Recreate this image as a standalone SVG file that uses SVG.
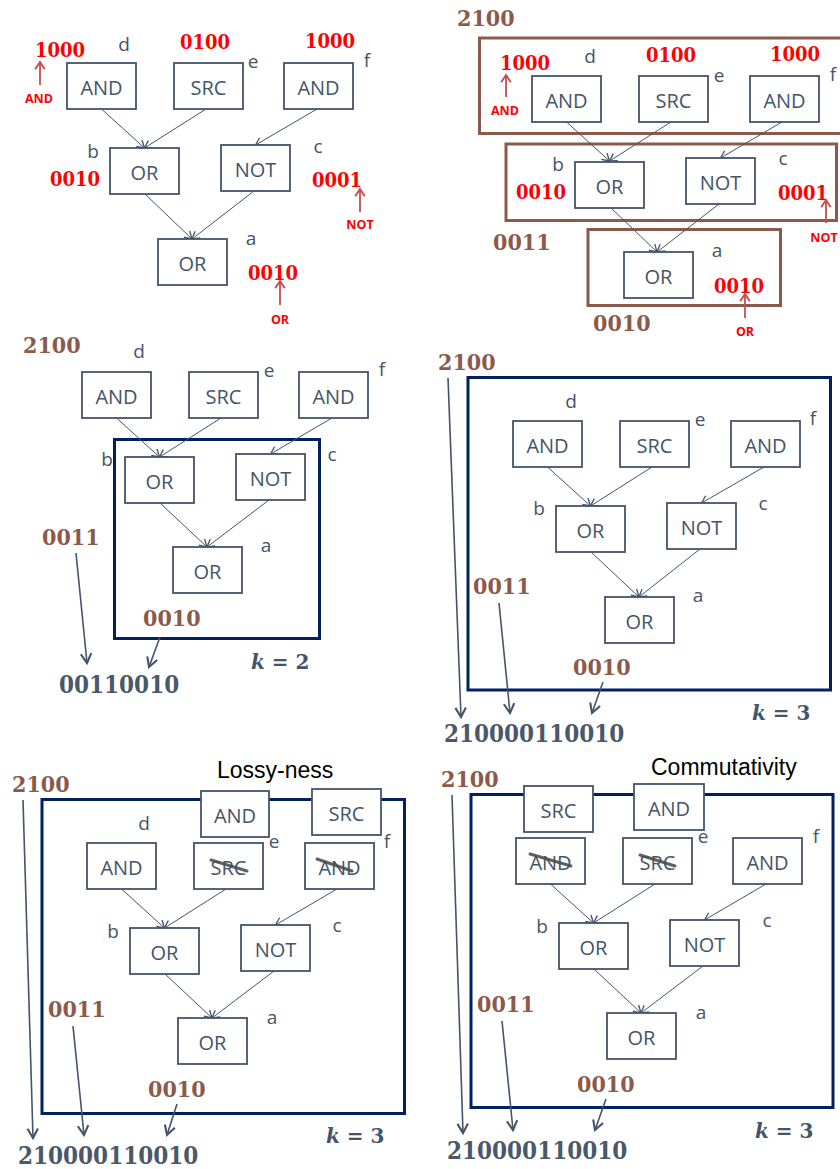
<svg xmlns="http://www.w3.org/2000/svg" width="840" height="1169" viewBox="0 0 840 1169">
<defs>
  <marker id="ah" markerUnits="userSpaceOnUse" markerWidth="12" markerHeight="12" viewBox="-8 -5 10 10" refX="0" refY="0" orient="auto">
    <path d="M-6,-3.5 L0,0 L-6,3.5" fill="none" stroke="#44546A" stroke-width="1.1"/>
  </marker>
  <marker id="ahBig" markerUnits="userSpaceOnUse" markerWidth="14" markerHeight="14" viewBox="-10 -6 12 12" refX="0" refY="0" orient="auto">
    <path d="M-8,-4.5 L0,0 L-8,4.5" fill="none" stroke="#44546A" stroke-width="1.8"/>
  </marker>
  <marker id="ahRed" markerUnits="userSpaceOnUse" markerWidth="12" markerHeight="12" viewBox="-8 -5 10 10" refX="0" refY="0" orient="auto">
    <path d="M-6,-4 L0,0 L-6,4" fill="none" stroke="#C0504D" stroke-width="1.6"/>
  </marker>
  <filter id="blur" x="-20%" y="-50%" width="140%" height="200%">
    <feGaussianBlur stdDeviation="0.7"/>
  </filter>
</defs>
<style>
  .node rect { fill: #ffffff; stroke: #44546A; stroke-width: 1.8; }
  .node text { font-family: "Open Sans", "Liberation Sans", sans-serif; font-size: 20px; fill: #44546A; text-anchor: middle; }
  .lbl { font-family: "Open Sans", "Liberation Sans", sans-serif; font-size: 19px; fill: #44546A; text-anchor: middle; }
  .edge { stroke: #44546A; stroke-width: 1; fill: none; marker-end: url(#ah); }
  .ser { stroke: #44546A; stroke-width: 1.6; fill: none; marker-end: url(#ahBig); }
  .rarr { stroke: #C0504D; stroke-width: 1.8; fill: none; marker-end: url(#ahRed); }
  .num { font-family: "DejaVu Serif Condensed", "DejaVu Serif", serif; font-stretch: condensed; font-weight: bold; }
  .red { fill: #FF0000; font-size: 20px; }
  .brown { fill: #8C5A4A; font-size: 23px; }
  .grey { fill: #4A586A; font-size: 24px; }
  .rlbl { font-family: "Open Sans", "Liberation Sans", sans-serif; font-weight: bold; font-size: 12.5px; fill: #FF0000; text-anchor: middle; }
  .kk { font-family: "DejaVu Serif", serif; font-weight: bold; font-size: 20px; fill: #44546A; }
  .brbox { fill: none; stroke: #8C5A4A; stroke-width: 3; }
  .blbox { fill: none; stroke: #002060; stroke-width: 3; }
  .title { font-family: "Liberation Sans", Arial, sans-serif; font-size: 23px; fill: #000000; }
  .strike { stroke: #4F4F4F; stroke-width: 3; stroke-linecap: round; opacity: 0.9; filter: url(#blur); }
</style>

<!-- ============ Panel 1 ============ -->
<g id="panel1">
  <g id="p1-connectors" transform="translate(67,63)">
    <line class="edge" x1="34.5" y1="46" x2="77.5" y2="85"/>
    <line class="edge" x1="139" y1="46" x2="77.5" y2="85"/>
    <line class="edge" x1="250" y1="46" x2="188.5" y2="82"/>
    <line class="edge" x1="78" y1="131" x2="125" y2="176"/>
    <line class="edge" x1="187" y1="128" x2="125" y2="176"/>
  </g>
  <g transform="translate(67,63)">
    <g id="p1-d" class="node"><rect x="0" y="0" width="69" height="46"/><text x="34.5" y="31.5">AND</text></g>
    <g id="p1-e" class="node"><rect x="107" y="0" width="69" height="46"/><text x="141.5" y="31.5">SRC</text></g>
    <g id="p1-f" class="node"><rect x="217" y="0" width="69" height="46"/><text x="251.5" y="31.5">AND</text></g>
    <g id="p1-b" class="node"><rect x="43" y="85" width="69" height="46"/><text x="77.5" y="116.5">OR</text></g>
    <g id="p1-c" class="node"><rect x="154" y="82" width="69" height="46"/><text x="188.5" y="113.5">NOT</text></g>
    <g id="p1-a" class="node"><rect x="91" y="176" width="69" height="46"/><text x="125.5" y="207.5">OR</text></g>
    <text class="lbl" x="57" y="-12">d</text>
    <text class="lbl" x="186" y="5">e</text>
    <text class="lbl" x="300" y="4">f</text>
    <text class="lbl" x="26" y="95">b</text>
    <text class="lbl" x="251" y="90">c</text>
    <text class="lbl" x="184" y="182">a</text>
  </g>
  <text class="num red" x="35" y="57">1000</text>
  <text class="num red" x="180" y="49">0100</text>
  <text class="num red" x="305" y="48">1000</text>
  <text class="num red" x="50" y="186">0010</text>
  <text class="num red" x="312" y="187">0001</text>
  <text class="num red" x="248" y="280">0010</text>
  <line class="rarr" x1="40" y1="85" x2="40" y2="62"/>
  <line class="rarr" x1="360" y1="212" x2="360" y2="189"/>
  <line class="rarr" x1="280" y1="305" x2="280" y2="281"/>
  <text class="rlbl" x="39" y="103">AND</text>
  <text class="rlbl" x="360" y="229">NOT</text>
  <text class="rlbl" x="280" y="324">OR</text>
</g>

<!-- ============ Panel 2 ============ -->
<g id="panel2">
  <rect class="brbox" x="479.5" y="38" width="362" height="95.5"/>
  <rect class="brbox" x="506" y="144" width="330.5" height="76.5"/>
  <rect class="brbox" x="588" y="229.5" width="192.5" height="76"/>
  <g id="p2-connectors" transform="translate(532,76)">
    <line class="edge" x1="34.5" y1="46" x2="77.5" y2="85"/>
    <line class="edge" x1="139" y1="46" x2="77.5" y2="85"/>
    <line class="edge" x1="250" y1="46" x2="188.5" y2="82"/>
    <line class="edge" x1="78" y1="131" x2="125" y2="176"/>
    <line class="edge" x1="187" y1="128" x2="125" y2="176"/>
  </g>
  <g transform="translate(532,76)">
    <g id="p2-d" class="node"><rect x="0" y="0" width="69" height="46"/><text x="34.5" y="31.5">AND</text></g>
    <g id="p2-e" class="node"><rect x="107" y="0" width="69" height="46"/><text x="141.5" y="31.5">SRC</text></g>
    <g id="p2-f" class="node"><rect x="218" y="0" width="69" height="46"/><text x="252.5" y="31.5">AND</text></g>
    <g id="p2-b" class="node"><rect x="43" y="86" width="69" height="46"/><text x="77.5" y="117.5">OR</text></g>
    <g id="p2-c" class="node"><rect x="154" y="82" width="69" height="46"/><text x="188.5" y="113.5">NOT</text></g>
    <g id="p2-a" class="node"><rect x="92" y="176" width="69" height="46"/><text x="126.5" y="207.5">OR</text></g>
    <text class="lbl" x="58" y="-13">d</text>
    <text class="lbl" x="187" y="6">e</text>
    <text class="lbl" x="301" y="5">f</text>
    <text class="lbl" x="26" y="95">b</text>
    <text class="lbl" x="251" y="89">c</text>
    <text class="lbl" x="185" y="181">a</text>
  </g>
  <text class="num brown" x="457" y="26">2100</text>
  <text class="num red" x="500" y="70">1000</text>
  <text class="num red" x="646" y="62">0100</text>
  <text class="num red" x="770" y="61">1000</text>
  <text class="num red" x="516" y="199">0010</text>
  <text class="num red" x="778" y="200">0001</text>
  <text class="num red" x="714" y="293">0010</text>
  <line class="rarr" x1="506" y1="97" x2="506" y2="75"/>
  <line class="rarr" x1="826" y1="223" x2="826" y2="200"/>
  <line class="rarr" x1="745" y1="318" x2="745" y2="294"/>
  <text class="rlbl" x="505" y="115">AND</text>
  <text class="rlbl" x="824" y="242">NOT</text>
  <text class="rlbl" x="745" y="336">OR</text>
  <text class="num brown" x="493" y="250">0011</text>
  <text class="num brown" x="593" y="331">0010</text>
</g>

<!-- ============ Panel 3 ============ -->
<g id="panel3">
  <rect class="blbox" x="114.5" y="439.5" width="205" height="199"/>
  <g id="p3-connectors" transform="translate(82,372)">
    <line class="edge" x1="34.5" y1="46" x2="77.5" y2="85"/>
    <line class="edge" x1="139" y1="46" x2="77.5" y2="85"/>
    <line class="edge" x1="250" y1="46" x2="188.5" y2="82"/>
    <line class="edge" x1="78" y1="131" x2="125" y2="175"/>
    <line class="edge" x1="187" y1="128" x2="125" y2="175"/>
  </g>
  <g transform="translate(82,372)">
    <g id="p3-d" class="node"><rect x="0" y="0" width="69" height="46"/><text x="34.5" y="31.5">AND</text></g>
    <g id="p3-e" class="node"><rect x="107" y="0" width="69" height="46"/><text x="141.5" y="31.5">SRC</text></g>
    <g id="p3-f" class="node"><rect x="217" y="0" width="69" height="46"/><text x="251.5" y="31.5">AND</text></g>
    <g id="p3-b" class="node"><rect x="43" y="85" width="69" height="46"/><text x="77.5" y="116.5">OR</text></g>
    <g id="p3-c" class="node"><rect x="154" y="82" width="69" height="46"/><text x="188.5" y="113.5">NOT</text></g>
    <g id="p3-a" class="node"><rect x="91" y="175" width="69" height="46"/><text x="125.5" y="206.5">OR</text></g>
    <text class="lbl" x="57" y="-14">d</text>
    <text class="lbl" x="187" y="5">e</text>
    <text class="lbl" x="300" y="4">f</text>
    <text class="lbl" x="25" y="94">b</text>
    <text class="lbl" x="250" y="89">c</text>
    <text class="lbl" x="184" y="180">a</text>
  </g>
  <text class="num brown" x="23" y="353">2100</text>
  <text class="num brown" x="42" y="545">0011</text>
  <text class="num brown" x="143" y="626">0010</text>
  <line class="ser" x1="76" y1="553" x2="87" y2="663"/>
  <line class="ser" x1="160" y1="637" x2="149" y2="667"/>
  <text class="num grey" x="59" y="693">00110010</text>
  <text class="kk" x="251" y="669"><tspan font-style="italic">k</tspan> = 2</text>
</g>

<!-- ============ Panel 4 ============ -->
<g id="panel4">
  <rect class="blbox" x="468" y="377.5" width="362.5" height="312.5"/>
  <g id="p4-connectors" transform="translate(513,421)">
    <line class="edge" x1="34.5" y1="46" x2="77.5" y2="85"/>
    <line class="edge" x1="139" y1="46" x2="77.5" y2="85"/>
    <line class="edge" x1="251" y1="46" x2="188.5" y2="82"/>
    <line class="edge" x1="78" y1="131" x2="126" y2="176"/>
    <line class="edge" x1="187" y1="128" x2="126" y2="176"/>
  </g>
  <g transform="translate(513,421)">
    <g id="p4-d" class="node"><rect x="0" y="0" width="69" height="46"/><text x="34.5" y="31.5">AND</text></g>
    <g id="p4-e" class="node"><rect x="107" y="0" width="69" height="46"/><text x="141.5" y="31.5">SRC</text></g>
    <g id="p4-f" class="node"><rect x="218" y="0" width="69" height="46"/><text x="252.5" y="31.5">AND</text></g>
    <g id="p4-b" class="node"><rect x="43" y="85" width="69" height="46"/><text x="77.5" y="116.5">OR</text></g>
    <g id="p4-c" class="node"><rect x="154" y="82" width="69" height="46"/><text x="188.5" y="113.5">NOT</text></g>
    <g id="p4-a" class="node"><rect x="92" y="176" width="69" height="46"/><text x="126.5" y="207.5">OR</text></g>
    <text class="lbl" x="58" y="-13">d</text>
    <text class="lbl" x="187" y="5">e</text>
    <text class="lbl" x="300" y="4">f</text>
    <text class="lbl" x="26" y="94">b</text>
    <text class="lbl" x="250" y="89">c</text>
    <text class="lbl" x="185" y="181">a</text>
  </g>
  <text class="num brown" x="438" y="370">2100</text>
  <text class="num brown" x="473" y="594">0011</text>
  <text class="num brown" x="573" y="675">0010</text>
  <line class="ser" x1="448" y1="378" x2="461" y2="717"/>
  <line class="ser" x1="499" y1="603" x2="510" y2="713"/>
  <line class="ser" x1="603" y1="682" x2="592" y2="713"/>
  <text class="num grey" x="444" y="742">210000110010</text>
  <text class="kk" x="752" y="720"><tspan font-style="italic">k</tspan> = 3</text>
</g>

<!-- ============ Panel 5 ============ -->
<g id="panel5">
  <text class="title" x="217" y="778">Lossy-ness</text>
  <rect class="blbox" x="42" y="799.5" width="362.5" height="314"/>
  <g id="p5-connectors" transform="translate(87,843)">
    <line class="edge" x1="34.5" y1="46" x2="77.5" y2="85"/>
    <line class="edge" x1="139" y1="46" x2="77.5" y2="85"/>
    <line class="edge" x1="250" y1="46" x2="188.5" y2="82"/>
    <line class="edge" x1="78" y1="131" x2="125" y2="175"/>
    <line class="edge" x1="187" y1="128" x2="125" y2="175"/>
  </g>
  <g id="p5-top-and" class="node"><rect x="201" y="791" width="68" height="46"/><text x="235" y="822.5">AND</text></g>
  <g id="p5-top-src" class="node"><rect x="312" y="789" width="69" height="46"/><text x="346.5" y="820.5">SRC</text></g>
  <g transform="translate(87,843)">
    <g id="p5-d" class="node"><rect x="0" y="0" width="69" height="46"/><text x="34.5" y="31.5">AND</text></g>
    <g id="p5-e" class="node"><rect x="107" y="0" width="69" height="46"/><text x="141.5" y="31.5">SRC</text></g>
    <g id="p5-f" class="node"><rect x="218" y="0" width="69" height="46"/><text x="252.5" y="31.5">AND</text></g>
    <g id="p5-b" class="node"><rect x="43" y="85" width="69" height="46"/><text x="77.5" y="116.5">OR</text></g>
    <g id="p5-c" class="node"><rect x="154" y="82" width="69" height="46"/><text x="188.5" y="113.5">NOT</text></g>
    <g id="p5-a" class="node"><rect x="91" y="175" width="69" height="46"/><text x="125.5" y="206.5">OR</text></g>
    <text class="lbl" x="57" y="-13">d</text>
    <text class="lbl" x="187" y="5">e</text>
    <text class="lbl" x="300" y="5">f</text>
    <text class="lbl" x="26" y="95">b</text>
    <text class="lbl" x="250" y="89">c</text>
    <text class="lbl" x="185" y="181">a</text>
  </g>
  <line class="strike" x1="211" y1="860" x2="247" y2="871"/>
  <line class="strike" x1="317" y1="859" x2="352" y2="871"/>
  <text class="num brown" x="12" y="792">2100</text>
  <text class="num brown" x="48" y="1017">0011</text>
  <text class="num brown" x="148" y="1097">0010</text>
  <line class="ser" x1="23" y1="800" x2="33" y2="1138"/>
  <line class="ser" x1="73" y1="1026" x2="84" y2="1135"/>
  <line class="ser" x1="177" y1="1104" x2="167" y2="1135"/>
  <text class="num grey" x="18" y="1164">210000110010</text>
  <text class="kk" x="326" y="1143"><tspan font-style="italic">k</tspan> = 3</text>
</g>

<!-- ============ Panel 6 ============ -->
<g id="panel6">
  <text class="title" x="651" y="775">Commutativity</text>
  <rect class="blbox" x="471" y="794.5" width="362" height="313"/>
  <g id="p6-connectors" transform="translate(516,838)">
    <line class="edge" x1="34.5" y1="46" x2="77.5" y2="85"/>
    <line class="edge" x1="139" y1="46" x2="77.5" y2="85"/>
    <line class="edge" x1="250" y1="46" x2="188.5" y2="82"/>
    <line class="edge" x1="78" y1="131" x2="125" y2="175"/>
    <line class="edge" x1="187" y1="128" x2="125" y2="175"/>
  </g>
  <g id="p6-top-src" class="node"><rect x="524" y="786" width="69" height="46"/><text x="558.5" y="817.5">SRC</text></g>
  <g id="p6-top-and" class="node"><rect x="634" y="784" width="70" height="46"/><text x="669" y="815.5">AND</text></g>
  <g transform="translate(516,838)">
    <g id="p6-d" class="node"><rect x="0" y="0" width="69" height="46"/><text x="34.5" y="31.5">AND</text></g>
    <g id="p6-e" class="node"><rect x="107" y="0" width="69" height="46"/><text x="141.5" y="31.5">SRC</text></g>
    <g id="p6-f" class="node"><rect x="217" y="0" width="69" height="46"/><text x="251.5" y="31.5">AND</text></g>
    <g id="p6-b" class="node"><rect x="43" y="85" width="69" height="46"/><text x="77.5" y="116.5">OR</text></g>
    <g id="p6-c" class="node"><rect x="154" y="82" width="69" height="46"/><text x="188.5" y="113.5">NOT</text></g>
    <g id="p6-a" class="node"><rect x="91" y="175" width="69" height="46"/><text x="125.5" y="206.5">OR</text></g>
    <text class="lbl" x="187" y="5">e</text>
    <text class="lbl" x="300" y="5">f</text>
    <text class="lbl" x="26" y="95">b</text>
    <text class="lbl" x="251" y="89">c</text>
    <text class="lbl" x="185" y="181">a</text>
  </g>
  <line class="strike" x1="530" y1="854" x2="571" y2="866"/>
  <line class="strike" x1="640" y1="855" x2="675" y2="866"/>
  <text class="num brown" x="441" y="787">2100</text>
  <text class="num brown" x="477" y="1012">0011</text>
  <text class="num brown" x="577" y="1092">0010</text>
  <line class="ser" x1="452" y1="795" x2="463" y2="1133"/>
  <line class="ser" x1="502" y1="1021" x2="513" y2="1130"/>
  <line class="ser" x1="606" y1="1099" x2="595" y2="1130"/>
  <text class="num grey" x="447" y="1159">210000110010</text>
  <text class="kk" x="755" y="1138"><tspan font-style="italic">k</tspan> = 3</text>
</g>
</svg>
